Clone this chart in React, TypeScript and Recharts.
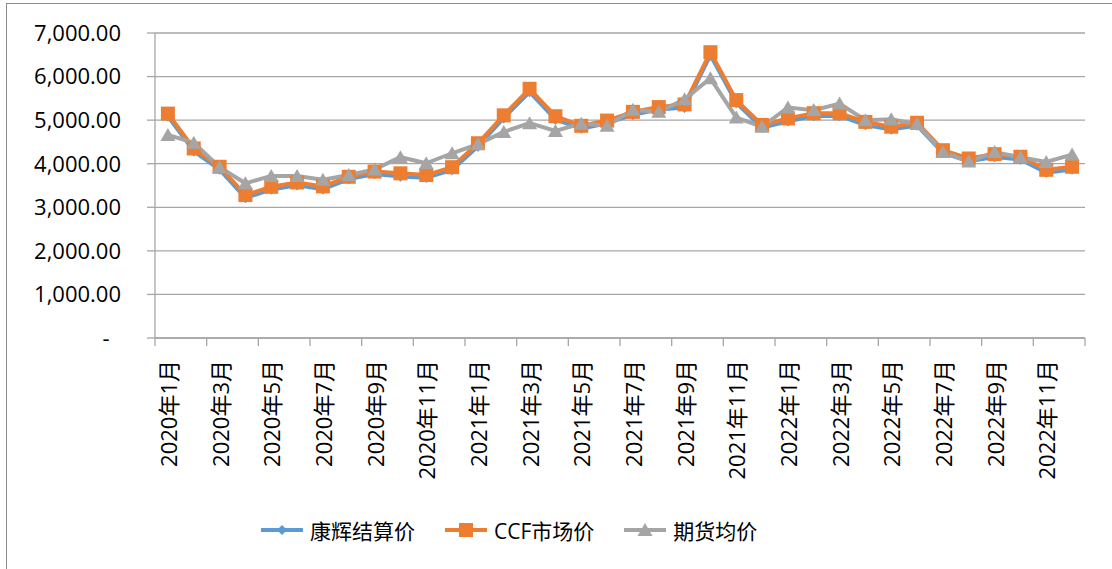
import React from 'react';
import { LineChart, Line, XAxis, YAxis, CartesianGrid, Legend } from 'recharts';

const months = [
  '2020年1月', '2020年2月', '2020年3月', '2020年4月', '2020年5月', '2020年6月',
  '2020年7月', '2020年8月', '2020年9月', '2020年10月', '2020年11月', '2020年12月',
  '2021年1月', '2021年2月', '2021年3月', '2021年4月', '2021年5月', '2021年6月',
  '2021年7月', '2021年8月', '2021年9月', '2021年10月', '2021年11月', '2021年12月',
  '2022年1月', '2022年2月', '2022年3月', '2022年4月', '2022年5月', '2022年6月',
  '2022年7月', '2022年8月', '2022年9月', '2022年10月', '2022年11月', '2022年12月',
];

// 康辉结算价
const kanghui = [
  5080, 4280, 3860, 3210, 3400, 3500, 3410, 3640, 3760, 3700, 3670, 3850,
  4390, 5040, 5640, 5010, 4800, 4920, 5120, 5240, 5280, 6480, 5390, 4820,
  4970, 5090, 5090, 4880, 4780, 4870, 4240, 4050, 4150, 4090, 3790, 3860,
];

// CCF市场价
const ccf = [
  5150, 4350, 3930, 3280, 3470, 3570, 3480, 3700, 3820, 3780, 3740, 3920,
  4470, 5110, 5720, 5090, 4870, 4990, 5190, 5300, 5360, 6560, 5460, 4890,
  5040, 5160, 5160, 4960, 4850, 4940, 4310, 4120, 4220, 4160, 3860, 3930,
];

// 期货均价
const futures = [
  4660, 4480, 3920, 3550, 3720, 3720, 3630, 3740, 3870, 4150, 4010, 4240,
  4450, 4730, 4930, 4750, 4920, 4870, 5240, 5190, 5480, 5960, 5060, 4850,
  5290, 5230, 5380, 5000, 5020, 4910, 4270, 4050, 4270, 4150, 4040, 4210,
];

const yTicks = [0, 1000, 2000, 3000, 4000, 5000, 6000, 7000];
const xTicks = [0, 2, 4, 6, 8, 10, 12, 14, 16, 18, 20, 22, 24, 26, 28, 30, 32, 34, 36];

const data = months.map((m, i) => ({
  pos: i + 0.5,
  month: m,
  kanghui: kanghui[i],
  ccf: ccf[i],
  futures: futures[i],
}));

const BLUE = '#5B9BD5';
const ORANGE = '#ED7D31';
const GRAY = '#A5A5A5';
const FONT = "'Open Sans', 'Noto Sans CJK SC', sans-serif";

const PLOT_LEFT = 155;
const PLOT_RIGHT = 1085;
const HALF_BAND = (PLOT_RIGHT - PLOT_LEFT) / months.length / 2;

const Diamond = ({ cx, cy, fill }: any) => (
  <path d={`M${cx},${cy - 5}L${cx + 5},${cy}L${cx},${cy + 5}L${cx - 5},${cy}Z`} fill={fill} />
);
const Square = ({ cx, cy, fill }: any) => (
  <rect x={cx - 7} y={cy - 7} width={14} height={14} fill={fill} />
);
const Triangle = ({ cx, cy, fill }: any) => (
  <path d={`M${cx},${cy - 7}L${cx + 7.5},${cy + 6}L${cx - 7.5},${cy + 6}Z`} fill={fill} />
);

const MonthTick = (props: any) => {
  const { x, y, payload } = props;
  const v = payload.value;
  if (v >= months.length) return null;
  const cx = x + HALF_BAND;
  return (
    <text
      x={cx}
      y={y}
      transform={`rotate(-90, ${cx}, ${y})`}
      textAnchor="end"
      dominantBaseline="central"
      fontSize={22}
      fontFamily={FONT}
      fill="#000"
    >
      {months[v]}
    </text>
  );
};

const fmtY = (v: number) =>
  v === 0 ? '-\u00a0\u00a0' : v.toLocaleString('en-US', { minimumFractionDigits: 2, maximumFractionDigits: 2 });

const legendItems = [
  { name: '康辉结算价', color: BLUE, Shape: Diamond },
  { name: 'CCF市场价', color: ORANGE, Shape: Square },
  { name: '期货均价', color: GRAY, Shape: Triangle },
];

const LegendContent = () => (
  <div style={{ display: 'flex', alignItems: 'center', height: 44, paddingLeft: 260, fontFamily: FONT, fontSize: 21 }}>
    {legendItems.map((it) => (
      <div key={it.name} style={{ display: 'flex', alignItems: 'center', marginRight: 29 }}>
        <svg width={44} height={20}>
          <line x1={1} y1={10} x2={43} y2={10} stroke={it.color} strokeWidth={4} />
          <it.Shape cx={22} cy={10} fill={it.color} />
        </svg>
        <span style={{ marginLeft: 6, color: '#000' }}>{it.name}</span>
      </div>
    ))}
  </div>
);

export default function App() {
  return (
    <div style={{ position: 'absolute', left: 0, top: 0, width: 1112, height: 569, overflow: 'hidden', background: '#fff' }}>
      <div
        style={{
          position: 'absolute',
          left: 6,
          top: 3,
          right: 0,
          bottom: 0,
          borderTop: '1px solid #8c8c8c',
          borderLeft: '1px solid #8c8c8c',
        }}
      />
      <div style={{ position: 'absolute', left: 0, top: 0 }}>
        <LineChart width={1112} height={569} data={data} margin={{ top: 33, right: 27, bottom: 0, left: 0 }}>
          <CartesianGrid vertical={false} stroke="#a6a6a6" strokeWidth={1.3} />
          <XAxis
            dataKey="pos"
            type="number"
            domain={[0, 36]}
            ticks={xTicks}
            interval={0}
            height={170}
            tickSize={8}
            tickMargin={14}
            tick={<MonthTick />}
            axisLine={{ stroke: '#a6a6a6', strokeWidth: 1.3 }}
            tickLine={{ stroke: '#a6a6a6', strokeWidth: 1.3 }}
          />
          <YAxis
            domain={[0, 7000]}
            ticks={yTicks}
            interval={0}
            width={155}
            tickSize={8}
            tickMargin={26}
            tickFormatter={fmtY}
            tick={{ fontSize: 22, fontFamily: FONT, fill: '#000' }}
            axisLine={{ stroke: '#a6a6a6', strokeWidth: 1.3 }}
            tickLine={{ stroke: '#a6a6a6', strokeWidth: 1.3 }}
          />
          <Legend
            verticalAlign="bottom"
            content={<LegendContent />}
            wrapperStyle={{ height: 61, paddingTop: 0 }}
          />
          <Line
            dataKey="kanghui"
            name="康辉结算价"
            stroke={BLUE}
            strokeWidth={3.5}
            dot={(p: any) => <Diamond key={`k${p.index}`} cx={p.cx} cy={p.cy} fill={BLUE} />}
            isAnimationActive={false}
          />
          <Line
            dataKey="ccf"
            name="CCF市场价"
            stroke={ORANGE}
            strokeWidth={4}
            dot={(p: any) => <Square key={`c${p.index}`} cx={p.cx} cy={p.cy} fill={ORANGE} />}
            isAnimationActive={false}
          />
          <Line
            dataKey="futures"
            name="期货均价"
            stroke={GRAY}
            strokeWidth={4}
            dot={(p: any) => <Triangle key={`f${p.index}`} cx={p.cx} cy={p.cy} fill={GRAY} />}
            isAnimationActive={false}
          />
        </LineChart>
      </div>
    </div>
  );
}
